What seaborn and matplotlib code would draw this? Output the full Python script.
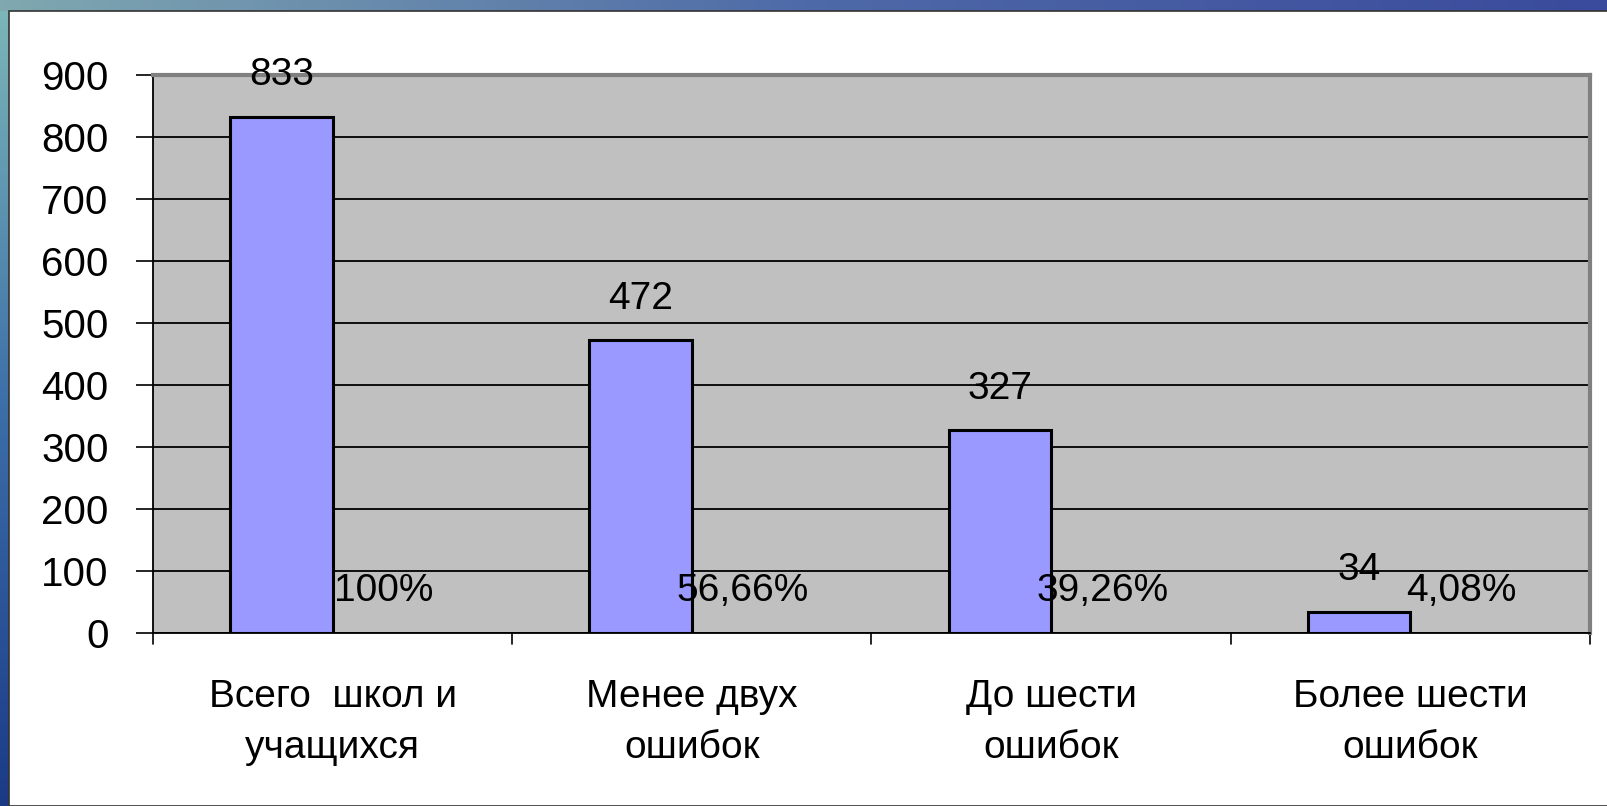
import numpy as np
import pandas as pd
import seaborn as sns
import matplotlib.pyplot as plt
from matplotlib.patches import Rectangle

# data
categories = ['Всего  школ и\nучащихся', 'Менее двух\nошибок', 'До шести\nошибок', 'Более шести\nошибок']
counts = [833, 472, 327, 34]
shares = [1.0, 0.5666, 0.3926, 0.0408]
share_labels = ['100%', '56,66%', '39,26%', '4,08%']

df = pd.DataFrame({
    'category': categories * 2,
    'value': counts + shares,
    'series': ['count'] * 4 + ['share'] * 4,
})

sns.set_style('white')
plt.rcParams['font.family'] = ['Liberation Sans', 'DejaVu Sans']
plt.rcParams['text.color'] = 'black'
plt.rcParams['xtick.color'] = 'black'
plt.rcParams['ytick.color'] = 'black'

fig = plt.figure(figsize=(16.08, 8.06), dpi=100)

# slide background: blue gradient strips on the left and top
bg = fig.add_axes([0, 0, 1, 1], zorder=-10)
grad = np.linspace(0, 1, 256).reshape(-1, 1)
bg.imshow(grad, aspect='auto', cmap=sns.blend_palette(['#7fb8b8', '#3d6fa8', '#1b3a86'], as_cmap=True),
          extent=[0, 1, 0, 1])
gx = np.linspace(0, 1, 256).reshape(1, -1)
bg.imshow(gx, aspect='auto', cmap=sns.blend_palette(['#7fa8b0', '#4f6aa8', '#3a4a9c'], as_cmap=True),
          extent=[0, 1, 1 - 11 / 806, 1])
bg.set_xlim(0, 1)
bg.set_ylim(0, 1)
bg.axis('off')
bg.add_patch(Rectangle((9 / 1608, 0), 1, 1 - 11 / 806, facecolor='white',
                       edgecolor='#333333', linewidth=1.2))

ax = fig.add_axes([153 / 1608, 1 - 633 / 806, (1590 - 153) / 1608, (633 - 75) / 806])
sns.barplot(data=df, x='category', y='value', hue='series', ax=ax,
            palette={'count': '#9999FF', 'share': '#9999FF'}, width=0.57,
            edgecolor='black', linewidth=2.2, legend=False, saturation=1)

ax.set_facecolor('#C0C0C0')
ax.set_ylim(0, 900)
ax.set_xlim(-0.5, 3.5)
ax.set_yticks(range(0, 901, 100))
ax.yaxis.grid(True, color='black', linewidth=1.3)
ax.set_axisbelow(True)

# hide the near-zero share bars, keep their labels
for bar in ax.containers[1]:
    bar.set_alpha(0)

ax.bar_label(ax.containers[0], labels=[str(c) for c in counts], padding=17, fontsize=28)
ax.bar_label(ax.containers[1], labels=share_labels, padding=17, fontsize=28)

ax.set_xlabel('')
ax.set_ylabel('')
ax.set_xticks(range(4))
ax.set_xticklabels(categories, fontsize=28, linespacing=1.55)
ax.tick_params(axis='x', length=0, pad=33)
ax.tick_params(axis='y', labelsize=29, length=12, width=1.2, pad=20, left=True)
for b in [-0.5, 0.5, 1.5, 2.5, 3.5]:
    ax.axvline(b, ymin=-0.02, ymax=0, color='black', linewidth=1.2, clip_on=False)

for side in ['left', 'bottom']:
    ax.spines[side].set_color('black')
    ax.spines[side].set_linewidth(1.3)
for side in ['top', 'right']:
    ax.spines[side].set_color('#808080')
    ax.spines[side].set_linewidth(3)

fig.savefig('out.png', dpi=100)
